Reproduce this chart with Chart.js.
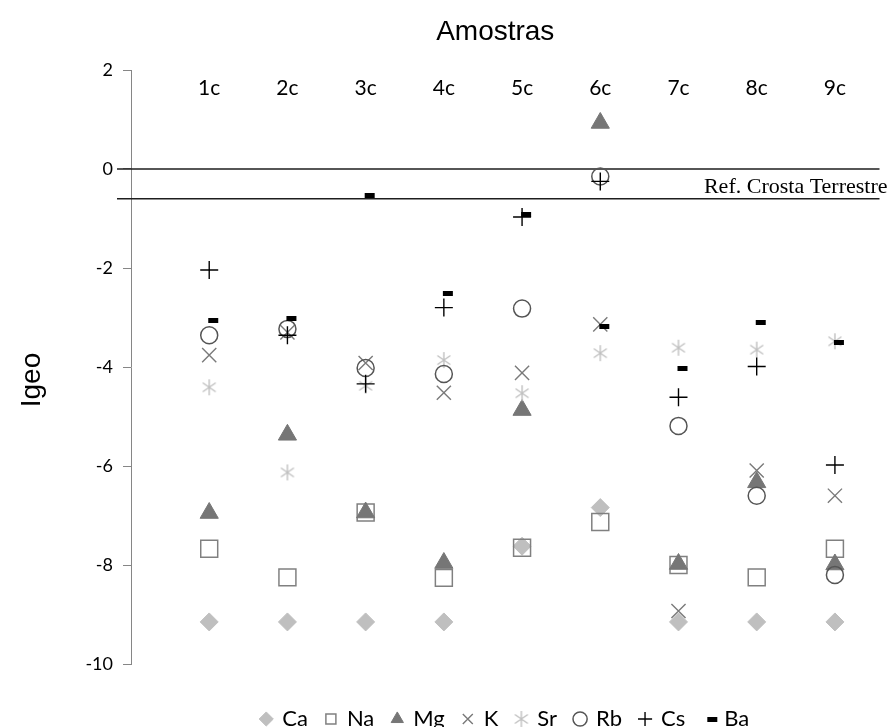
<!DOCTYPE html>
<html>
<head>
<meta charset="utf-8">
<script src="https://cdn.jsdelivr.net/npm/chart.js@4.4.1/dist/chart.umd.min.js"></script>
<style>
  html, body { margin: 0; padding: 0; background: #ffffff; }
  #wrap { width: 893px; height: 727px; }
</style>
</head>
<body>
<div id="wrap"><canvas id="igeo" width="893" height="727"></canvas></div>
<script>
// Samples along the profile
const samples = ['1c', '2c', '3c', '4c', '5c', '6c', '7c', '8c', '9c'];

// Igeo per element, one value per sample
const caValues = [-9.15, -9.15, -9.15, -9.15, -7.62, -6.84, -9.15, -9.15, -9.15];
const naValues = [-7.67, -8.25, -6.94, -8.26, -7.65, -7.13, -8.00, -8.25, -7.67];
const mgValues = [-6.95, -5.37, -6.94, -7.96, -4.87, 0.93, -7.98, -6.33, -7.99];
const kValues  = [-3.76, -3.30, -3.92, -4.52, -4.12, -3.14, -8.93, -6.09, -6.60];
const srValues = [-4.41, -6.13, -4.38, -3.86, -4.53, -3.72, -3.61, -3.65, -3.48];
const rbValues = [-3.36, -3.23, -4.02, -4.14, -2.82, -0.15, -5.19, -6.60, -8.20];
const csValues = [-2.04, -3.36, -4.34, -2.80, -0.97, -0.25, -4.61, -3.99, -5.98];
const baValues = [-3.07, -3.02, -0.54, -2.51, -0.92, -3.19, -4.03, -3.10, -3.51];

// Vertical axis ticks
const yTicks = [2, 0, -2, -4, -6, -8, -10];

// Earth's crust reference band
const crustRefs = [0, -0.6];
const crustLabel = 'Ref. Crosta Terrestre';

const titleText = 'Amostras';
const yTitleText = 'Igeo';

function makeMarker(w, h, paint) {
  const c = document.createElement('canvas');
  c.width = w; c.height = h;
  paint(c.getContext('2d'));
  return c;
}

// short thick bar, drawn a little right of the sample position
const dashMarker = makeMarker(20, 5, g => {
  g.fillStyle = '#000000';
  g.fillRect(9, 0, 10, 5);
});

// six-armed asterisk
const asteriskMarker = makeMarker(18, 18, g => {
  g.strokeStyle = '#c0c0c0';
  g.lineWidth = 1.4;
  g.beginPath();
  g.moveTo(9, 1); g.lineTo(9, 17);
  g.moveTo(2.5, 4.5); g.lineTo(15.5, 13.5);
  g.moveTo(15.5, 4.5); g.lineTo(2.5, 13.5);
  g.stroke();
});

const toPoints = values => values.map((v, i) => ({ x: i + 1, y: v }));

const series = [
  { label: 'Ca', data: caValues, pointStyle: 'rectRot', radius: 9, border: '#bfbfbf', fill: '#bfbfbf', width: 1 },
  { label: 'Na', data: naValues, pointStyle: 'rect', radius: 12, border: '#808080', fill: 'rgba(0,0,0,0)', width: 1.5 },
  { label: 'Mg', data: mgValues, pointStyle: 'triangle', radius: 10.5, border: '#767676', fill: '#767676', width: 1 },
  { label: 'K',  data: kValues,  pointStyle: 'crossRot', radius: 10, border: '#7a7a7a', fill: '#7a7a7a', width: 1.4 },
  { label: 'Sr', data: srValues, pointStyle: asteriskMarker, radius: 9, border: '#c0c0c0', fill: '#c0c0c0', width: 1.4 },
  { label: 'Rb', data: rbValues, pointStyle: 'circle', radius: 8.5, border: '#555555', fill: 'rgba(0,0,0,0)', width: 1.5 },
  { label: 'Cs', data: csValues, pointStyle: 'cross', radius: 9, border: '#000000', fill: '#000000', width: 1.4 },
  { label: 'Ba', data: baValues, pointStyle: dashMarker, radius: 6, border: '#000000', fill: '#000000', width: 1 }
];

const datasets = series.map((s, i) => ({
  label: s.label,
  data: toPoints(s.data),
  showLine: false,
  pointStyle: s.pointStyle,
  pointRadius: s.radius,
  pointHoverRadius: s.radius,
  borderColor: s.border,
  backgroundColor: s.fill,
  pointBorderWidth: s.width,
  borderWidth: s.width,
  order: series.length - i
}));

const crustBand = {
  id: 'crustBand',
  beforeDatasetsDraw(chart) {
    const { ctx, chartArea, scales } = chart;
    const y = scales.y;
    ctx.save();
    ctx.strokeStyle = '#1e1e1e';
    ctx.lineWidth = 1.5;
    crustRefs.forEach(v => {
      const py = y.getPixelForValue(v);
      ctx.beginPath();
      ctx.moveTo(chartArea.left - 14, py);
      ctx.lineTo(chartArea.right, py);
      ctx.stroke();
    });
    ctx.fillStyle = '#000000';
    ctx.font = '22px "Liberation Serif"';
    ctx.textAlign = 'right';
    ctx.textBaseline = 'alphabetic';
    ctx.fillText(crustLabel, chartArea.right + 8, y.getPixelForValue(crustRefs[1]) - 6);
    ctx.restore();
  }
};

const axisTitles = {
  id: 'axisTitles',
  afterDraw(chart) {
    const { ctx, chartArea } = chart;
    ctx.save();
    ctx.fillStyle = '#000000';
    ctx.font = '28px "Liberation Sans"';
    ctx.textAlign = 'center';
    ctx.textBaseline = 'middle';
    ctx.fillText(titleText, (chartArea.left + chartArea.right) / 2 - 10, 32);
    ctx.translate(32, (chartArea.top + chartArea.bottom) / 2 + 13);
    ctx.rotate(-Math.PI / 2);
    ctx.fillText(yTitleText, 0, 0);
    ctx.restore();
  }
};

new Chart(document.getElementById('igeo'), {
  type: 'scatter',
  data: { datasets },
  options: {
    responsive: false,
    devicePixelRatio: 1,
    animation: false,
    events: [],
    layout: { padding: { left: 0, right: 10, top: 70, bottom: -13 } },
    scales: {
      x: {
        type: 'linear',
        min: 0,
        max: 9.57,
        position: { y: 2 },
        afterBuildTicks: s => { s.ticks = samples.map((_, i) => ({ value: i + 1 })); },
        ticks: {
          callback: v => samples[Math.round(v) - 1] || '',
          font: { family: 'Lato', size: 21 },
          color: '#000000',
          padding: 6,
          maxRotation: 0,
          autoSkip: false
        },
        grid: { display: false, drawTicks: false },
        border: { display: false }
      },
      gap: {
        type: 'linear',
        position: 'bottom',
        display: true,
        ticks: { display: false },
        grid: { display: false, drawTicks: false },
        border: { display: false },
        afterFit: s => { s.height = 26; }
      },
      y: {
        type: 'linear',
        min: -10,
        max: 2,
        afterBuildTicks: s => { s.ticks = yTicks.map(v => ({ value: v })); },
        afterFit: s => { s.width = 131; },
        ticks: {
          font: { family: 'Lato', size: 18 },
          color: '#000000',
          padding: 10
        },
        grid: { display: true, drawOnChartArea: false, drawTicks: true, tickLength: 8, color: '#868686', lineWidth: 1 },
        border: { display: true, color: '#868686', width: 1 }
      }
    },
    plugins: {
      title: { display: false },
      tooltip: { enabled: false },
      legend: {
        position: 'bottom',
        fullSize: false,
        labels: {
          usePointStyle: true,
          boxWidth: 10,
          boxHeight: 10,
          padding: 18,
          color: '#000000',
          font: { family: 'Lato', size: 22 },
          sort: (a, b) => a.datasetIndex - b.datasetIndex
        }
      }
    }
  },
  plugins: [crustBand, axisTitles]
});
</script>
</body>
</html>
